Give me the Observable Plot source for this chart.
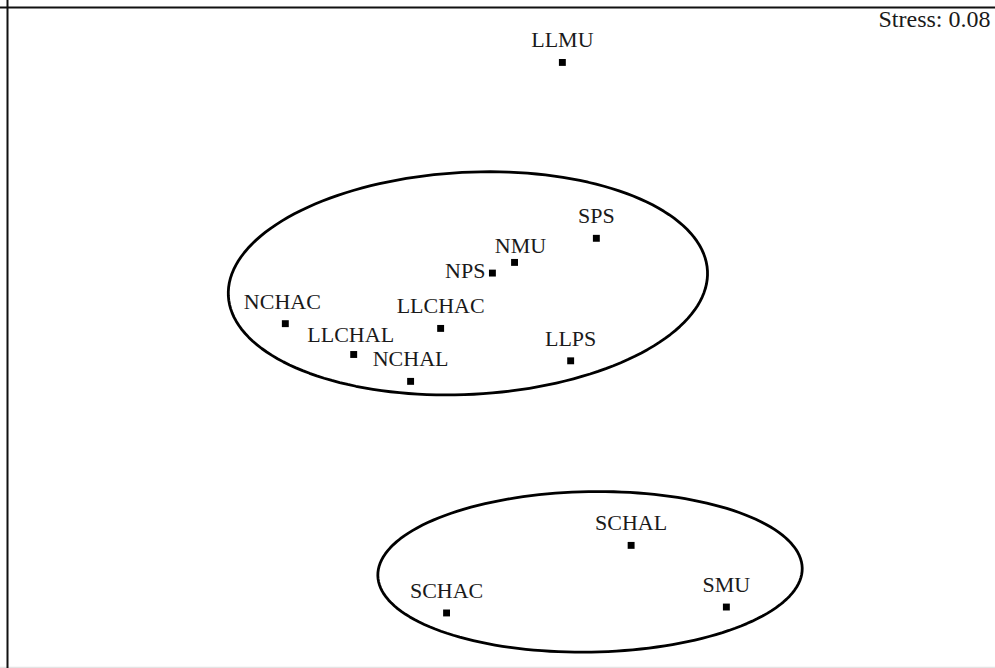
<!DOCTYPE html>
<html>
<head>
<meta charset="utf-8">
<script src="https://cdn.jsdelivr.net/npm/d3@7"></script>
<script src="https://cdn.jsdelivr.net/npm/@observablehq/plot@0.6"></script>
<style>
  html, body { margin: 0; padding: 0; background: #fff; }
  #chart svg { display: block; }
</style>
</head>
<body>
<div id="chart"></div>
<script>
// NMDS ordination of sites (2D solution)
const sites = ["LLMU", "SPS", "NMU", "NPS", "NCHAC", "LLCHAC", "LLCHAL", "NCHAL", "LLPS", "SCHAL", "SCHAC", "SMU"];
const nmds1 = [0.154, 0.240, 0.033, -0.023, -0.547, -0.154, -0.374, -0.230, 0.175, 0.328, -0.139, 0.569];
const nmds2 = [0.696, 0.251, 0.190, 0.163, 0.035, 0.023, -0.043, -0.111, -0.059, -0.526, -0.697, -0.682];
const stress = 0.08;

// Grouping ellipses: centre, semi-axes and rotation (degrees), in ordination units
const groupCx = [-0.085, 0.224];
const groupCy = [0.137, -0.593];
const groupA = [0.607, 0.537];
const groupB = [0.281, 0.203];
const groupAngle = [3, 1];

const points = sites.map((name, i) => ({name, x: nmds1[i], y: nmds2[i]}));

// Label placement: above the point by default, a few moved aside to avoid overlaps
const labelNudge = {
  NMU: {dx: 6, dy: -16, anchor: "middle"},
  NPS: {dx: -7, dy: -2, anchor: "end"},
  NCHAC: {dx: -3, dy: -22, anchor: "middle"},
  LLCHAL: {dx: -3, dy: -20, anchor: "middle"}
};
const defaultNudge = {dx: 0, dy: -22, anchor: "middle"};
const labelGroups = d3.groups(points, d => JSON.stringify(labelNudge[d.name] || defaultNudge));

// Outline of each ellipse, traced in ordination space
const ellipses = groupCx.flatMap((cx, g) => {
  const th = groupAngle[g] * Math.PI / 180;
  return d3.range(0, 160).map(k => {
    const t = (k / 160) * 2 * Math.PI;
    const ex = groupA[g] * Math.cos(t), ey = groupB[g] * Math.sin(t);
    return {
      group: g,
      x: cx + ex * Math.cos(th) - ey * Math.sin(th),
      y: groupCy[g] + ex * Math.sin(th) + ey * Math.cos(th)
    };
  });
});

const serif = "'Liberation Serif', 'Times New Roman', serif";
const xDomain = [-1.25, 1.25];
const yDomain = [-0.835, 0.835];

const chart = Plot.plot({
  width: 995,
  height: 668,
  marginTop: 0, marginRight: 0, marginBottom: 0, marginLeft: 0,
  style: {fontFamily: serif, background: "#fff"},
  x: {domain: xDomain, range: [7, 995], axis: null},
  y: {domain: yDomain, range: [667, 7], axis: null},
  marks: [
    // plot border (left and top, faint bottom)
    Plot.ruleY([yDomain[0]], {stroke: "#e4e4e4", strokeWidth: 1.5}),
    Plot.ruleY([yDomain[1]], {stroke: "#111", strokeWidth: 2}),
    Plot.ruleX([xDomain[0]], {stroke: "#111", strokeWidth: 2}),
    // group ellipses
    Plot.line(ellipses, {x: "x", y: "y", z: "group", curve: "linear-closed", stroke: "#000", strokeWidth: 2.8}),
    // sites
    Plot.dot(points, {x: "x", y: "y", symbol: "square", r: 3.9, fill: "#000", stroke: null}),
    ...labelGroups.map(([key, rows]) => {
      const n = JSON.parse(key);
      return Plot.text(rows, {
        x: "x", y: "y", text: "name",
        dx: n.dx, dy: n.dy, textAnchor: n.anchor,
        fontSize: 22, fill: "#1a1a1a", fontFamily: serif
      });
    }),
    // stress value
    Plot.text([`Stress: ${stress.toFixed(2)}`], {
      frameAnchor: "top-right", lineAnchor: "middle", textAnchor: "end",
      dx: -5, dy: 19, fontSize: 24, fill: "#1a1a1a", fontFamily: serif
    })
  ]
});

document.getElementById("chart").appendChild(chart);
</script>
</body>
</html>
